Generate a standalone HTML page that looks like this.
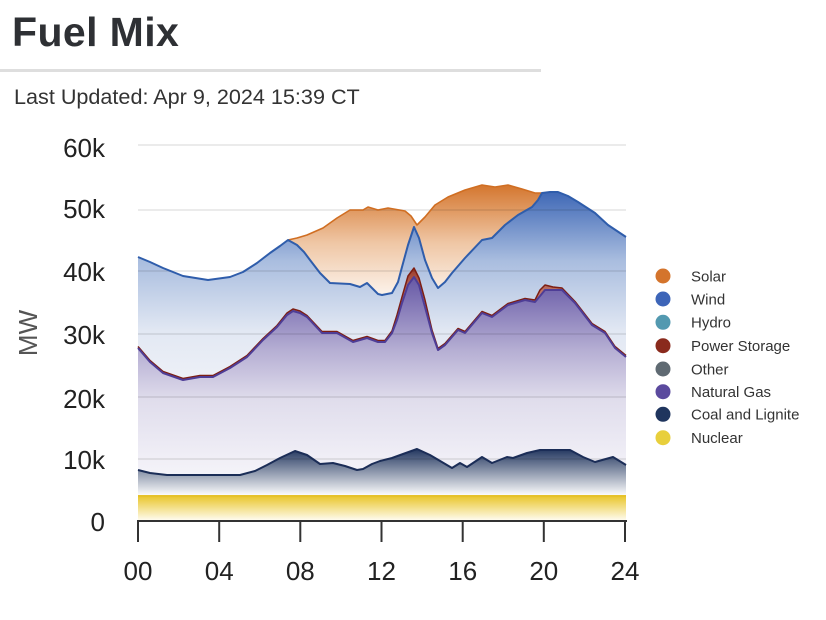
<!DOCTYPE html>
<html><head><meta charset="utf-8"><style>
html,body{margin:0;padding:0;background:#fff;}
svg{display:block;}
text{font-family:"Liberation Sans",Arial,sans-serif;}
</style></head><body>
<svg width="826" height="620" viewBox="0 0 826 620" xmlns="http://www.w3.org/2000/svg">
<defs>
<linearGradient id="gS" gradientUnits="userSpaceOnUse" x1="0" y1="185" x2="0" y2="300"><stop offset="0" stop-color="#d4762e"/><stop offset="0.5" stop-color="#efc6a4"/><stop offset="1" stop-color="#fdf7f2"/></linearGradient>
<linearGradient id="gW" gradientUnits="userSpaceOnUse" x1="0" y1="192" x2="0" y2="400"><stop offset="0" stop-color="#3f68b6"/><stop offset="0.33" stop-color="#a9bddf"/><stop offset="0.67" stop-color="#e2e8f3"/><stop offset="1" stop-color="#f2f4f9"/></linearGradient>
<linearGradient id="gP" gradientUnits="userSpaceOnUse" x1="0" y1="268" x2="0" y2="300"><stop offset="0" stop-color="#9a3a2a"/><stop offset="1" stop-color="#c9877c"/></linearGradient>
<linearGradient id="gG" gradientUnits="userSpaceOnUse" x1="0" y1="270" x2="0" y2="480"><stop offset="0" stop-color="#5e4fa1"/><stop offset="0.38" stop-color="#b5aed3"/><stop offset="0.62" stop-color="#e0ddec"/><stop offset="1" stop-color="#f6f5fa"/></linearGradient>
<linearGradient id="gC" gradientUnits="userSpaceOnUse" x1="0" y1="449" x2="0" y2="496"><stop offset="0" stop-color="#22365f"/><stop offset="1" stop-color="#ffffff"/></linearGradient>
<linearGradient id="gN" gradientUnits="userSpaceOnUse" x1="0" y1="496" x2="0" y2="521"><stop offset="0" stop-color="#e9c62b"/><stop offset="1" stop-color="#fffdf5"/></linearGradient>
</defs>

<!-- header -->
<text x="12" y="46" font-size="41" font-weight="bold" fill="#2e3034" letter-spacing="0.4">Fuel Mix</text>
<rect x="0" y="69" width="541" height="3" fill="#dedede"/>
<text x="14" y="104" font-size="21.6" fill="#333">Last Updated: Apr 9, 2024 15:39 CT</text>

<!-- areas -->
<path fill="url(#gS)" d="M288,240 L297,238 L307,235 L323,228 L337,218 L350,210 L363,210 L368,207 L378,210 L388,208 L405,211 L411,216 L417,225 L425,217 L435,205 L448,197 L465,190 L482,185 L495,187 L508,185 L522,189 L535,193 L542,193 L542,521 L288,521 Z"/>
<path fill="url(#gW)" d="M138,257 L150,262 L163,268 L183,276 L208,280 L230,277 L243,272 L257,263 L270,253 L280,246 L288,240 L297,245 L304,252 L310,260 L320,273 L330,283 L350,284 L360,287 L367,283 L378,294 L382,295 L392,293 L398,282 L402,267 L408,245 L414,227 L419,238 L425,260 L432,278 L438,288 L445,282 L452,273 L465,258 L482,240 L492,238 L505,225 L518,215 L532,207 L538,200 L542,193 L550,192 L558,192 L568,196 L578,202 L595,213 L608,225 L626,237 L626,521 L138,521 Z"/>
<path fill="url(#gP)" d="M138,346.5 L150,360.5 L163,371.5 L183,378.5 L200,375.5 L213,375.5 L230,366.5 L247,355.5 L263,338.5 L277,325.5 L287,313 L293,309 L300,311 L307,315.5 L322,331.5 L337,331.5 L353,340.5 L367,336.5 L378,340.5 L385,340.5 L392,331 L397,315 L402,297 L408,276 L414,268 L419,278 L425,300 L432,330 L438,348.5 L445,343.5 L458,328.5 L465,331.5 L482,311.5 L492,315.5 L508,303.5 L525,298.5 L535,300 L540,290 L545,285 L553,287 L562,288 L575,301.5 L592,323.5 L605,331.5 L615,346.5 L626,355.5 L626,521 L138,521 Z"/>
<path fill="url(#gG)" d="M138,348 L150,362 L163,373 L183,380 L200,377 L213,377 L230,368 L247,357 L263,340 L277,327 L287,315 L293,311 L300,313 L307,317 L322,333 L337,333 L353,342 L367,338 L378,342 L385,342 L392,333 L397,320 L402,303 L408,285 L414,277 L419,285 L425,307 L432,333 L438,350 L445,345 L458,330 L465,333 L482,313 L492,317 L508,305 L525,300 L535,302 L545,290 L562,290 L575,303 L592,325 L605,333 L615,348 L626,357 L626,521 L138,521 Z"/>
<path fill="url(#gC)" d="M138,470 L150,473 L167,475 L240,475 L255,471 L267,465 L280,458 L295,451 L307,455 L320,464 L333,463 L345,466 L357,470 L363,469 L372,464 L380,461 L392,458 L403,454 L417,449 L430,455 L452,468 L460,463 L467,467 L482,457 L492,463 L507,457 L513,458 L527,453 L540,450 L570,450 L583,457 L595,462 L613,457 L626,465 L626,521 L138,521 Z"/>
<rect x="138" y="496" width="488" height="25" fill="url(#gN)"/>

<!-- gridlines -->
<g stroke="rgba(0,0,0,0.08)" stroke-width="2">
<line x1="138" y1="145" x2="626" y2="145"/>
<line x1="138" y1="210" x2="626" y2="210"/>
<line x1="138" y1="271" x2="626" y2="271"/>
<line x1="138" y1="334" x2="626" y2="334"/>
<line x1="138" y1="397" x2="626" y2="397"/>
<line x1="138" y1="459" x2="626" y2="459"/>
</g>

<!-- series lines -->
<g fill="none" stroke-linejoin="round">
<path stroke="#d06e22" stroke-width="1.6" d="M288,240 L297,238 L307,235 L323,228 L337,218 L350,210 L363,210 L368,207 L378,210 L388,208 L405,211 L411,216 L417,225 L425,217 L435,205 L448,197 L465,190 L482,185 L495,187 L508,185 L522,189 L535,193 L542,193"/>
<path stroke="#2f5dab" stroke-width="2" d="M138,257 L150,262 L163,268 L183,276 L208,280 L230,277 L243,272 L257,263 L270,253 L280,246 L288,240 L297,245 L304,252 L310,260 L320,273 L330,283 L350,284 L360,287 L367,283 L378,294 L382,295 L392,293 L398,282 L402,267 L408,245 L414,227 L419,238 L425,260 L432,278 L438,288 L445,282 L452,273 L465,258 L482,240 L492,238 L505,225 L518,215 L532,207 L538,200 L542,193 L550,192 L558,192 L568,196 L578,202 L595,213 L608,225 L626,237"/>
<path stroke="#7d1e12" stroke-width="1.5" d="M138,346.5 L150,360.5 L163,371.5 L183,378.5 L200,375.5 L213,375.5 L230,366.5 L247,355.5 L263,338.5 L277,325.5 L287,313 L293,309 L300,311 L307,315.5 L322,331.5 L337,331.5 L353,340.5 L367,336.5 L378,340.5 L385,340.5 L392,331 L397,315 L402,297 L408,276 L414,268 L419,278 L425,300 L432,330 L438,348.5 L445,343.5 L458,328.5 L465,331.5 L482,311.5 L492,315.5 L508,303.5 L525,298.5 L535,300 L540,290 L545,285 L553,287 L562,288 L575,301.5 L592,323.5 L605,331.5 L615,346.5 L626,355.5"/>
<path stroke="#4e3d96" stroke-width="2" d="M138,348 L150,362 L163,373 L183,380 L200,377 L213,377 L230,368 L247,357 L263,340 L277,327 L287,315 L293,311 L300,313 L307,317 L322,333 L337,333 L353,342 L367,338 L378,342 L385,342 L392,333 L397,320 L402,303 L408,285 L414,277 L419,285 L425,307 L432,333 L438,350 L445,345 L458,330 L465,333 L482,313 L492,317 L508,305 L525,300 L535,302 L545,290 L562,290 L575,303 L592,325 L605,333 L615,348 L626,357"/>
<path stroke="#1b2d57" stroke-width="2" d="M138,470 L150,473 L167,475 L240,475 L255,471 L267,465 L280,458 L295,451 L307,455 L320,464 L333,463 L345,466 L357,470 L363,469 L372,464 L380,461 L392,458 L403,454 L417,449 L430,455 L452,468 L460,463 L467,467 L482,457 L492,463 L507,457 L513,458 L527,453 L540,450 L570,450 L583,457 L595,462 L613,457 L626,465"/>
<line x1="138" y1="496" x2="626" y2="496" stroke="#e6c22a" stroke-width="2"/>
</g>

<!-- axes -->
<line x1="137" y1="521" x2="627" y2="521" stroke="#333" stroke-width="2"/>
<g stroke="#333" stroke-width="2">
<line x1="138" y1="520" x2="138" y2="542"/>
<line x1="219.2" y1="520" x2="219.2" y2="542"/>
<line x1="300.3" y1="520" x2="300.3" y2="542"/>
<line x1="381.5" y1="520" x2="381.5" y2="542"/>
<line x1="462.7" y1="520" x2="462.7" y2="542"/>
<line x1="543.8" y1="520" x2="543.8" y2="542"/>
<line x1="625" y1="520" x2="625" y2="542"/>
</g>
<g font-size="26" fill="#222" text-anchor="middle">
<text x="138" y="580">00</text>
<text x="219.2" y="580">04</text>
<text x="300.3" y="580">08</text>
<text x="381.5" y="580">12</text>
<text x="462.7" y="580">16</text>
<text x="543.8" y="580">20</text>
<text x="625" y="580">24</text>
</g>
<g font-size="26" fill="#222" text-anchor="end">
<text x="105" y="157">60k</text>
<text x="105" y="218">50k</text>
<text x="105" y="281">40k</text>
<text x="105" y="344">30k</text>
<text x="105" y="408">20k</text>
<text x="105" y="469">10k</text>
<text x="105" y="531">0</text>
</g>
<text transform="translate(37,333) rotate(-90)" font-size="26" fill="#555" text-anchor="middle">MW</text>

<!-- legend -->
<g>
<circle cx="663" cy="276" r="7.5" fill="#d4742c"/>
<circle cx="663" cy="299" r="7.5" fill="#3d65b8"/>
<circle cx="663" cy="322.3" r="7.5" fill="#5399b0"/>
<circle cx="663" cy="345.7" r="7.5" fill="#8a2a1d"/>
<circle cx="663" cy="369" r="7.5" fill="#5f6a72"/>
<circle cx="663" cy="391.7" r="7.5" fill="#5b4a9e"/>
<circle cx="663" cy="414.3" r="7.5" fill="#1f355e"/>
<circle cx="663" cy="437.7" r="7.5" fill="#e8cf3c"/>
</g>
<g font-size="15" fill="#333">
<text x="691" y="281.3">Solar</text>
<text x="691" y="304.3">Wind</text>
<text x="691" y="327.6">Hydro</text>
<text x="691" y="351">Power Storage</text>
<text x="691" y="374.3">Other</text>
<text x="691" y="397">Natural Gas</text>
<text x="691" y="419.6">Coal and Lignite</text>
<text x="691" y="443">Nuclear</text>
</g>
</svg>
</body></html>
